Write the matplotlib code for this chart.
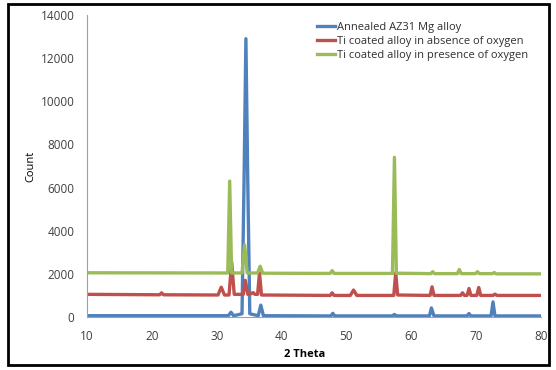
import matplotlib.pyplot as plt
from matplotlib.patches import Rectangle

plt.rcParams['font.family'] = ['Open Sans', 'DejaVu Sans']

# 2-theta / count points (baseline + peak tops)
blue_x = [10, 31.8, 32.2, 32.6, 33.9, 34.2, 34.5, 34.8, 35.1, 36.4, 36.8, 37.2,
          47.6, 47.9, 48.2, 57.1, 57.4, 57.7, 62.8, 63.1, 63.5, 68.6, 68.9, 69.2,
          72.3, 72.6, 72.9, 80]
blue_y = [60, 60, 220, 60, 150, 6000, 12900, 6000, 150, 60, 550, 60,
          50, 170, 50, 50, 120, 50, 50, 420, 50, 50, 160, 50,
          50, 700, 50, 50]

red_x = [10, 21.2, 21.5, 21.8, 30.2, 30.7, 31.2, 31.9, 32.3, 32.7, 34.1, 34.4,
         34.8, 35.3, 35.6, 35.9, 36.3, 36.6, 36.9, 47.5, 47.8, 48.1, 50.6, 51.1,
         51.6, 57.3, 57.6, 57.9, 62.9, 63.2, 63.5, 67.6, 67.9, 68.2, 68.6, 68.9,
         69.2, 70.1, 70.4, 70.7, 72.6, 72.9, 73.2, 80]
red_y = [1050, 1030, 1120, 1030, 1020, 1380, 1020, 1020, 2550, 1050, 1050, 1700,
         1050, 1080, 1130, 1050, 1050, 2050, 1020, 1000, 1120, 1000, 1000, 1250,
         1000, 1000, 2050, 1020, 1000, 1400, 1000, 1000, 1120, 1000, 1000, 1320,
         1000, 1000, 1370, 1000, 1000, 1060, 1000, 1000]

green_x = [10, 31.7, 32.0, 32.3, 33.9, 34.3, 34.7, 36.3, 36.7, 37.1, 47.5, 47.8,
           48.1, 57.1, 57.4, 57.7, 63.0, 63.3, 63.6, 67.1, 67.4, 67.7, 69.9, 70.2,
           70.5, 72.5, 72.8, 73.1, 80]
green_y = [2050, 2040, 6300, 2040, 2040, 3350, 2040, 2040, 2350, 2030, 2020, 2150,
           2020, 2020, 7400, 2030, 2010, 2100, 2010, 2010, 2200, 2010, 2010, 2100,
           2010, 2010, 2060, 2000, 2000]

labels = ['Annealed AZ31 Mg alloy', 'Ti coated alloy in absence of oxygen',
          'Ti coated alloy in presence of oxygen']
colors = ['#4F81BD', '#C0504D', '#9BBB59']

fig = plt.figure(figsize=(5.56, 3.70), dpi=100)
ax = fig.add_axes([87 / 556, 1 - 317 / 370, 454 / 556, 302 / 370])

ax.plot(blue_x, blue_y, color=colors[0], lw=2.4, label=labels[0])
ax.plot(red_x, red_y, color=colors[1], lw=2.4, label=labels[1])
ax.plot(green_x, green_y, color=colors[2], lw=2.4, label=labels[2])

ax.set_xlim(10, 80)
ax.set_ylim(0, 14000)
ax.set_xticks(range(10, 81, 10))
ax.set_yticks(range(0, 14001, 2000))
ax.tick_params(length=0, labelsize=8.5, colors='#404040', pad=9)
for s in ['top', 'right']:
    ax.spines[s].set_visible(False)
for s in ['left', 'bottom']:
    ax.spines[s].set_color('#A0A0A0')
    ax.spines[s].set_linewidth(0.8)

ax.set_ylabel('Count', fontsize=8)
ax.yaxis.set_label_coords(-0.112, 0.5)
ax.set_xlabel('2 Theta', fontsize=8, fontweight='bold')
ax.xaxis.set_label_coords(0.48, -0.106)

ax.legend(loc='upper left', bbox_to_anchor=(0.485, 1.01), frameon=False,
          fontsize=8, handlelength=1.6, handletextpad=0.2, labelspacing=0.25,
          labelcolor='#303030')

fig.patches.append(Rectangle((8 / 556, 5 / 370), 541 / 556, 361 / 370,
                             transform=fig.transFigure, fill=False,
                             edgecolor='black', lw=2))

plt.savefig('out.png', dpi=100)
